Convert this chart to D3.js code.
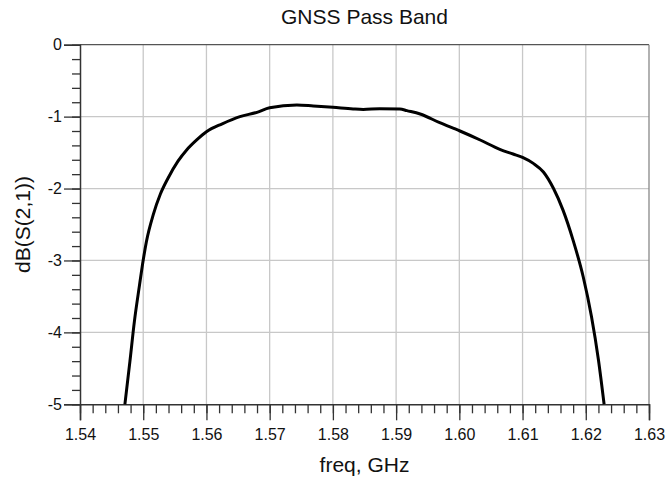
<!DOCTYPE html>
<html><head><meta charset="utf-8">
<script src="https://cdn.jsdelivr.net/npm/d3@7"></script>
<style>body{margin:0;background:#fff}svg{display:block;font-family:"Liberation Sans",Arial,sans-serif}</style>
</head><body>
<svg id="c" width="667" height="488"></svg>
<script>
const freq = [1.5471,1.5479,1.5486,1.5494,1.5499,1.5505,1.5516,1.5527,1.5539,1.5555,1.5569,1.5585,1.5600,1.5625,1.5653,1.5680,1.5700,1.5743,1.5769,1.5800,1.5832,1.5848,1.5874,1.5906,1.5917,1.5938,1.5969,1.6001,1.6033,1.6064,1.6085,1.6100,1.6117,1.6133,1.6149,1.6164,1.6180,1.6196,1.6209,1.6220,1.6229];
const dB   = [-5.0,-4.40,-3.85,-3.35,-3.05,-2.74,-2.36,-2.08,-1.86,-1.62,-1.46,-1.32,-1.21,-1.10,-1.00,-0.94,-0.876,-0.838,-0.852,-0.871,-0.894,-0.90,-0.89,-0.894,-0.917,-0.963,-1.085,-1.20,-1.325,-1.455,-1.52,-1.566,-1.65,-1.77,-2.0,-2.30,-2.72,-3.23,-3.78,-4.38,-5.0];
const xTicks = [1.54,1.55,1.56,1.57,1.58,1.59,1.60,1.61,1.62,1.63];
const yTicks = [0,-1,-2,-3,-4,-5];
const title = "GNSS Pass Band", xTitle = "freq, GHz", yTitle = "dB(S(2,1))";

const svg = d3.select("#c");
const L=80, R=649, T=44.7, B=404.3;
const x = d3.scaleLinear().domain([1.54,1.63]).range([L,R]);
const y = d3.scaleLinear().domain([-5,0]).range([B,T]);

// grid
const g = svg.append("g");
g.selectAll(".vg").data(xTicks.slice(1,-1)).join("line")
  .attr("x1",d=>x(d)).attr("x2",d=>x(d)).attr("y1",T).attr("y2",B)
  .attr("stroke","#c8c8c8").attr("stroke-width",1.3);
g.selectAll(".hg").data(yTicks.slice(1,-1)).join("line")
  .attr("x1",L).attr("x2",R).attr("y1",d=>y(d)).attr("y2",d=>y(d))
  .attr("stroke","#c8c8c8").attr("stroke-width",1.3);
// frame top/right
svg.append("line").attr("x1",L).attr("x2",R).attr("y1",T).attr("y2",T).attr("stroke","#555").attr("stroke-width",1.3);
svg.append("line").attr("x1",R).attr("x2",R).attr("y1",T).attr("y2",B).attr("stroke","#888").attr("stroke-width",1.3);

// axes
const fmtX = d => d.toFixed(2);
const fmtY = d => String(d);
const xMinor = d3.range(0,46).map(i=>1.54+i*0.002);
const yMinor = d3.range(0,26).map(i=>-5+i*0.2);
const xa = svg.append("g").attr("transform",`translate(0,${B})`)
  .call(d3.axisBottom(x).tickValues(xMinor).tickSize(9).tickFormat(""));
xa.call(a=>a.select(".domain").remove());
const xa2 = svg.append("g").attr("transform",`translate(0,${B})`)
  .call(d3.axisBottom(x).tickValues(xTicks).tickSize(16).tickPadding(5).tickFormat(fmtX));
const ya = svg.append("g").attr("transform",`translate(${L},0)`)
  .call(d3.axisLeft(y).tickValues(yMinor).tickSize(8).tickFormat(""));
ya.call(a=>a.select(".domain").remove());
const ya2 = svg.append("g").attr("transform",`translate(${L},0)`)
  .call(d3.axisLeft(y).tickValues(yTicks).tickSize(16).tickPadding(2).tickFormat(fmtY));
svg.selectAll(".tick line").attr("stroke","#333").attr("stroke-width",1.3);
svg.selectAll(".domain").attr("stroke","#333").attr("stroke-width",1.5);
xa2.selectAll("text").attr("font-size",16).attr("fill","#111").attr("font-family","Liberation Sans, Arial, sans-serif").attr("dy","0.9em");
ya2.selectAll("text").attr("font-size",16).attr("fill","#111").attr("font-family","Liberation Sans, Arial, sans-serif");

// line
const pts = freq.map((f,i)=>[f,dB[i]]);
svg.append("path").datum(pts)
  .attr("d",d3.line().x(d=>x(d[0])).y(d=>y(d[1])).curve(d3.curveMonotoneX))
  .attr("fill","none").attr("stroke","#000").attr("stroke-width",3).attr("stroke-linejoin","round");

// titles
svg.append("text").attr("x",(L+R)/2).attr("y",24).attr("text-anchor","middle")
  .attr("font-size",21).attr("fill","#111").text(title);
svg.append("text").attr("x",(L+R)/2).attr("y",472).attr("text-anchor","middle")
  .attr("font-size",21).attr("fill","#111").text(xTitle);
svg.append("text").attr("transform",`translate(30,${(T+B)/2}) rotate(-90)`).attr("text-anchor","middle")
  .attr("font-size",21).attr("fill","#111").text(yTitle);
</script>
</body></html>
